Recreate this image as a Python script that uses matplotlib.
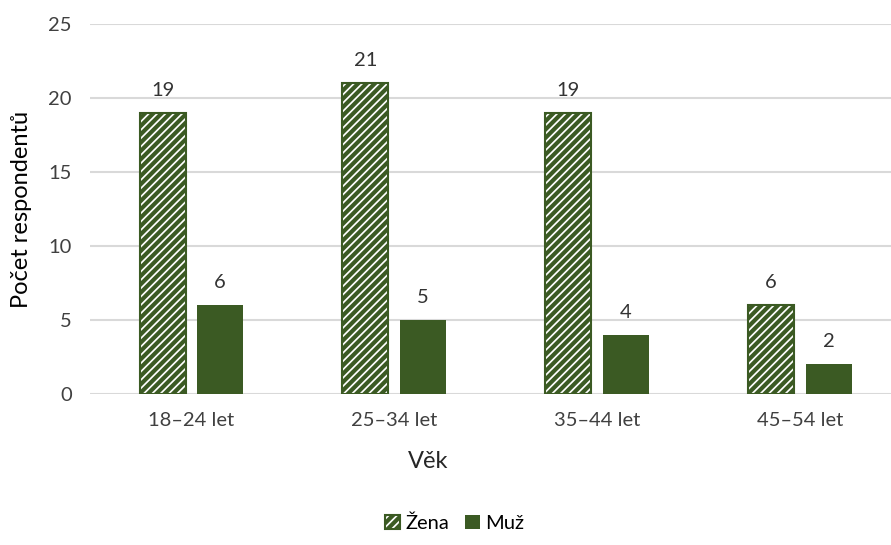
import matplotlib.pyplot as plt
import numpy as np

# data
categories = ['18–24 let', '25–34 let', '35–44 let', '45–54 let']
zena = [19, 21, 19, 6]
muz = [6, 5, 4, 2]

green = '#3B5A23'
plt.rcParams['font.family'] = ['Lato', 'DejaVu Sans']
plt.rcParams['hatch.linewidth'] = 3.0
plt.rcParams['hatch.color'] = green

fig = plt.figure(figsize=(8.91, 5.45), dpi=100)
ax = fig.add_axes([90 / 891, 151 / 545, 1 - 90 / 891, 370 / 545])

x = np.arange(len(categories))
w = 0.227
off = 0.142
b1 = ax.bar(x - off, zena, w, facecolor='white', edgecolor=green, hatch='////',
            linewidth=1.5, label='Žena', zorder=3)
b2 = ax.bar(x + off, muz, w, color=green, label='Muž', zorder=3)

fs = 14.5
for bars in (b1, b2):
    for r in bars:
        ax.text(r.get_x() + r.get_width() / 2, r.get_height() + 0.95, str(int(r.get_height())),
                ha='center', va='bottom', fontsize=fs, color='#333333')

ax.set_xlim(-0.5, 3.45)
ax.set_ylim(0, 25)
ax.set_yticks(range(0, 26, 5))
ax.set_xticks(x)
ax.set_xticklabels(categories)
ax.tick_params(length=0, labelsize=fs, labelcolor='#404040')
ax.tick_params(axis='x', pad=13)
ax.tick_params(axis='y', pad=13)
ax.grid(axis='y', color='#D9D9D9', linewidth=1.5, zorder=0)
for s in ax.spines.values():
    s.set_visible(False)

ax.set_ylabel('Počet respondentů', fontsize=17, color='black')
ax.yaxis.set_label_coords(-58 / 801, 0.5)
ax.set_xlabel('Věk', fontsize=17, color='#262626')
ax.xaxis.set_label_coords((428 - 90) / 801, -57 / 370)

fig.legend(handles=[b1, b2], loc='center', bbox_to_anchor=(455 / 891, 1 - 523 / 545),
           ncol=2, frameon=False, fontsize=fs, handlelength=0.7, handleheight=0.7,
           handletextpad=0.3, columnspacing=0.8)

fig.savefig('out.png', dpi=100)
